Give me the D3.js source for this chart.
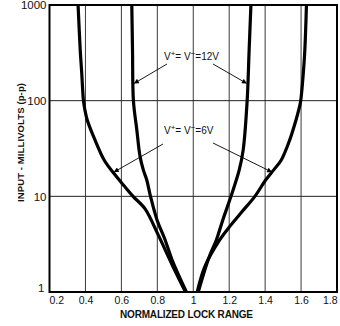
<!DOCTYPE html>
<html>
<head>
<meta charset="utf-8">
<script src="https://cdn.jsdelivr.net/npm/d3@7/dist/d3.min.js"></script>
<style>
  html, body { margin: 0; padding: 0; background: #fff; }
  svg { display: block; font-family: "Liberation Sans", Arial, sans-serif; }
</style>
</head>
<body>
<svg id="chart" width="340" height="326"></svg>
<script>
// ---- Data ----
const xTicks = [0.2, 0.4, 0.6, 0.8, 1.0, 1.2, 1.4, 1.6, 1.8];
const xTickLabels = ["0.2", "0.4", "0.6", "0.8", "1", "1.2", "1.4", "1.6", "1.8"];
const yTicks = [1, 10, 100, 1000];
const yTickLabels = ["1", "10", "100", "1000"];

// V+ = V- = 12V, left branch (input mV, normalized lock range)
const mv12Left   = [1000, 338, 100, 49.4, 26, 18.9, 14.9, 10, 5.7, 3.52, 2.17, 1];
const lock12Left = [0.658, 0.662, 0.667, 0.686, 0.704, 0.722, 0.741, 0.762, 0.798, 0.843, 0.882, 0.962];
// V+ = V- = 12V, right branch
const mv12Right   = [1000, 338, 100, 30.6, 18.9, 10, 5.7, 3.52, 2.28, 1];
const lock12Right = [1.321, 1.311, 1.300, 1.278, 1.256, 1.210, 1.165, 1.129, 1.087, 1.028];
// V+ = V- = 6V, left branch
const mv6Left   = [1000, 338, 200, 100, 80, 62.9, 38.9, 24.0, 17.3, 12.9, 10, 7.4, 4.1, 1.85, 1];
const lock6Left = [0.359, 0.371, 0.379, 0.389, 0.397, 0.410, 0.453, 0.504, 0.559, 0.615, 0.665, 0.732, 0.801, 0.887, 0.957];
// V+ = V- = 6V, right branch
const mv6Right   = [1000, 338, 200, 100, 80, 62.9, 38.9, 24.0, 18.9, 14.9, 10, 6.9, 5.0, 3.52, 1.85, 1];
const lock6Right = [1.630, 1.621, 1.613, 1.598, 1.587, 1.572, 1.537, 1.490, 1.448, 1.404, 1.343, 1.271, 1.209, 1.148, 1.065, 1.022];

// ---- Layout ----
const svg = d3.select("#chart");
const L = 49.5, R = 337, T = 5, B = 292;

const x = d3.scaleLinear().domain([0.2, 1.8]).range([L, R]);
const y = d3.scaleLog().domain([1, 1000]).range([B, T]);

// Gridlines
const g = svg.append("g");
g.selectAll("line.vg").data(xTicks.slice(1, -1)).join("line")
  .attr("x1", d => x(d)).attr("x2", d => x(d))
  .attr("y1", T).attr("y2", B)
  .attr("stroke", "#3a3a3a").attr("stroke-width", 1);
g.selectAll("line.hg").data(yTicks.slice(1, -1)).join("line")
  .attr("x1", L).attr("x2", R)
  .attr("y1", d => y(d)).attr("y2", d => y(d))
  .attr("stroke", "#222").attr("stroke-width", 1);

// Frame
svg.append("rect")
  .attr("x", L).attr("y", T).attr("width", R - L).attr("height", B - T)
  .attr("fill", "none").attr("stroke", "#000").attr("stroke-width", 2);

// Axes labels (ticks)
const xAxis = d3.axisBottom(x).tickValues(xTicks).tickFormat((d, i) => xTickLabels[i]).tickSize(0).tickPadding(5);
const xg = svg.append("g").attr("transform", `translate(0,${B})`).call(xAxis);
xg.select(".domain").remove();
xg.selectAll("text").attr("font-size", 10.5).attr("fill", "#111")
  .attr("font-family", "Liberation Sans, Arial, sans-serif")
  .attr("text-anchor", (d, i) => i === 0 ? "start" : (i === xTicks.length - 1 ? "end" : "middle"))
  .attr("dx", (d, i) => i === 0 ? -0.5 : 0);

const yAxis = d3.axisLeft(y).tickValues(yTicks).tickFormat((d, i) => yTickLabels[i]).tickSize(0).tickPadding(3);
const yg = svg.append("g").attr("transform", `translate(${L},0)`).call(yAxis);
yg.select(".domain").remove();
yg.selectAll("text").attr("font-size", 11.5).attr("fill", "#111")
  .attr("font-family", "Liberation Sans, Arial, sans-serif")
  .attr("y", (d, i) => i === 0 ? -4 : 0)
  .attr("x", (d, i) => i === 0 ? -5 : -3);

// Axis titles
svg.append("text")
  .attr("x", 186.5).attr("y", 317.5)
  .attr("text-anchor", "middle")
  .attr("font-size", 10).attr("font-weight", "bold").attr("fill", "#111")
  .attr("textLength", 133).attr("lengthAdjust", "spacing")
  .text("NORMALIZED LOCK RANGE");

svg.append("text")
  .attr("transform", "translate(23.5,142.5) rotate(-90)")
  .attr("text-anchor", "middle")
  .attr("font-size", 9.5).attr("font-weight", "bold").attr("fill", "#111")
  .attr("textLength", 119).attr("lengthAdjust", "spacing")
  .text("INPUT - MILLIVOLTS (p-p)");

// Curves
const line = d3.line()
  .x(d => x(d[0])).y(d => y(d[1]))
  .curve(d3.curveCatmullRom.alpha(0.5));

const series = [
  [lock12Left, mv12Left],
  [lock12Right, mv12Right],
  [lock6Left, mv6Left],
  [lock6Right, mv6Right]
];
svg.append("g").selectAll("path").data(series).join("path")
  .attr("d", s => line(s[0].map((v, i) => [v, s[1][i]])))
  .attr("fill", "none").attr("stroke", "#000")
  .attr("stroke-width", 3.2).attr("stroke-linecap", "butt");

// Arrow marker
const defs = svg.append("defs");
defs.append("marker")
  .attr("id", "ah").attr("viewBox", "0 0 10 10")
  .attr("refX", 9).attr("refY", 5)
  .attr("markerWidth", 7).attr("markerHeight", 5)
  .attr("markerUnits", "userSpaceOnUse")
  .attr("orient", "auto")
  .append("path").attr("d", "M0,0 L10,5 L0,10 Z").attr("fill", "#000");

// Annotations: label + arrows (arrow tips on the curves)
function label(xp, yp, volts) {
  const t = svg.append("text")
    .attr("x", xp).attr("y", yp)
    .attr("font-size", 10).attr("fill", "#111");
  t.append("tspan").text("V");
  t.append("tspan").attr("dy", -4).attr("font-size", 8).text("+");
  t.append("tspan").attr("dy", 4).text("= V");
  t.append("tspan").attr("dy", -4).attr("font-size", 8).text("\u2212");
  t.append("tspan").attr("dy", 4).text("=" + volts);
}
label(164, 60, "12V");
label(164, 134, "6V");

function arrow(x1, y1, mvTip, lockTip) {
  svg.append("line")
    .attr("x1", x1).attr("y1", y1)
    .attr("x2", x(lockTip)).attr("y2", y(mvTip))
    .attr("stroke", "#000").attr("stroke-width", 0.9)
    .attr("marker-end", "url(#ah)");
}
// 12V arrows
arrow(167, 64, 152, 0.672);
arrow(213, 64, 152, 1.296);
// 6V arrows
arrow(163, 144, 18, 0.560);
arrow(213, 143, 18, 1.436);
</script>
</body>
</html>
